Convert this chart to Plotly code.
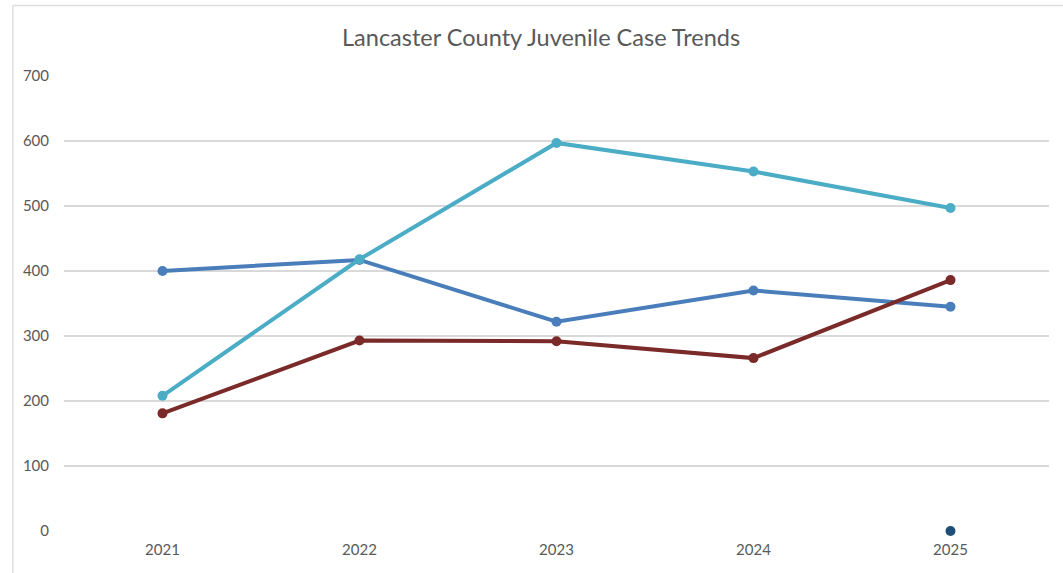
import plotly.graph_objects as go

years = ["2021", "2022", "2023", "2024", "2025"]
series_blue = [400, 417, 322, 370, 345]
series_cyan = [208, 418, 597, 553, 497]
series_red = [181, 293, 292, 266, 386]
extra_x = ["2025"]
extra_y = [0]
y_ticks = [0, 100, 200, 300, 400, 500, 600, 700]

fig = go.Figure()
fig.add_trace(go.Scatter(x=years, y=series_blue, mode="lines+markers",
                         line=dict(color="#4a7ebb", width=4), marker=dict(size=10, color="#4a7ebb")))
fig.add_trace(go.Scatter(x=years, y=series_cyan, mode="lines+markers",
                         line=dict(color="#4bacc6", width=4), marker=dict(size=10, color="#4bacc6")))
fig.add_trace(go.Scatter(x=years, y=series_red, mode="lines+markers",
                         line=dict(color="#7a2a28", width=4), marker=dict(size=10, color="#7a2a28")))
fig.add_trace(go.Scatter(x=extra_x, y=extra_y, mode="markers", cliponaxis=False,
                         marker=dict(size=10, color="#1f4e79")))

fig.update_layout(
    width=1063, height=573,
    paper_bgcolor="white", plot_bgcolor="white",
    margin=dict(l=64, r=14, t=76, b=42),
    showlegend=False,
    title=dict(text="Lancaster County Juvenile Case Trends", x=0.509, xanchor="center",
               y=0.934, yanchor="middle",
               font=dict(family="Lato", size=23.5, color="#595959")),
    xaxis=dict(type="category", showgrid=False, showline=False, zeroline=False,
               tickfont=dict(family="Lato", size=15, color="#595959"),
               ticklabelstandoff=8, range=[-0.5, 4.5]),
    yaxis=dict(range=[0, 700], tickvals=y_ticks, showgrid=True, gridcolor="#d9d9d9",
               gridwidth=1.5, zeroline=False, showline=False,
               tickfont=dict(family="Lato", size=15, color="#595959"),
               ticklabelstandoff=14),
    shapes=[
        dict(type="line", xref="paper", yref="paper", x0=-0.052, x1=1.1, y0=1.155, y1=1.155,
             line=dict(color="#dedede", width=1.5)),
        dict(type="line", xref="paper", yref="paper", x0=-0.052, x1=-0.052, y0=1.155, y1=-0.2,
             line=dict(color="#dedede", width=1.5)),
    ],
)
fig.write_html("out.html", config={"displayModeBar": False},
               post_script="document.body.style.margin='0';")
